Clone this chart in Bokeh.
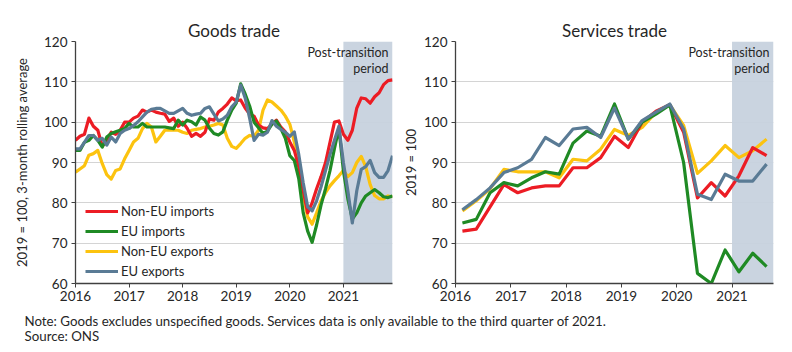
from bokeh.plotting import figure
from bokeh.models import (Range1d, BoxAnnotation, Label, Legend, LegendItem,
                          FixedTicker, ColumnDataSource)
from bokeh.layouts import column, row
from bokeh.embed import file_html
from bokeh.resources import INLINE

FONT = "Lato"
TXT = "#262626"

# ---------------- data ----------------
goods_start_year = 2016
goods_n_months = 72  # Jan 2016 .. Dec 2021

goods_non_eu_imports = [
    95.5, 96.5, 97.0, 101.0, 99.0, 98.0, 94.0, 95.5, 97.5, 97.0, 98.0, 100.0,
    100.0, 101.0, 101.5, 103.0, 102.5, 103.0, 102.5, 102.2, 102.0, 100.2, 101.0, 99.0,
    100.0, 98.5, 96.5, 97.2, 96.5, 97.5, 100.8, 100.5, 102.5, 103.4, 104.5, 106.0,
    105.3, 105.5, 103.5, 102.0, 101.5, 99.3, 98.6, 98.4, 99.5, 100.5, 98.8, 97.6,
    95.1, 93.0, 89.0, 83.0, 77.5, 80.0, 83.5, 86.5, 90.0, 95.0, 100.0, 100.3,
    97.0, 95.5, 98.0, 103.5, 106.0, 105.8, 104.7, 106.3, 107.3, 109.3, 110.3, 110.5]

goods_eu_imports = [
    93.0, 93.0, 95.0, 95.5, 96.7, 95.5, 93.8, 96.3, 97.2, 97.6, 98.0, 98.4,
    99.7, 98.8, 98.8, 99.7, 98.8, 98.8, 98.8, 98.8, 98.8, 98.6, 98.4, 100.5,
    99.3, 100.5, 100.1, 99.3, 101.3, 100.5, 98.5, 97.2, 96.8, 97.6, 100.5, 103.0,
    104.7, 109.5, 107.0, 104.0, 100.0, 98.6, 97.2, 97.8, 99.5, 100.3, 98.4, 96.0,
    91.7, 90.5, 86.0, 77.5, 73.0, 70.2, 74.5, 79.5, 83.5, 88.0, 93.5, 98.5,
    88.0, 81.0, 76.0, 77.5, 80.0, 81.7, 82.5, 83.3, 82.5, 81.5, 81.3, 81.7]

goods_non_eu_exports = [
    87.6, 88.4, 89.2, 91.8, 92.2, 93.0, 89.7, 87.0, 85.9, 88.0, 88.4, 90.9,
    93.0, 95.1, 96.0, 98.4, 99.7, 98.8, 95.1, 96.5, 98.0, 98.0, 98.0, 98.0,
    97.5, 97.2, 98.0, 98.2, 98.4, 98.8, 99.0, 99.3, 99.7, 99.3, 96.0, 94.0,
    93.5, 94.7, 96.0, 96.7, 96.5, 98.0, 103.0, 105.5, 105.0, 104.0, 103.0, 101.5,
    99.5, 95.1, 89.5, 82.0, 76.5, 74.7, 77.5, 80.5, 82.5, 84.2, 85.5, 86.7,
    88.0, 86.5, 87.5, 90.0, 91.5, 89.0, 84.5, 81.8, 81.0, 81.0, 81.7, 81.5]

goods_eu_exports = [
    93.4, 93.4, 95.0, 96.7, 96.7, 95.5, 96.0, 94.3, 96.3, 95.1, 97.2, 98.0,
    98.4, 99.2, 100.1, 101.3, 102.5, 103.2, 103.4, 103.4, 102.8, 102.2, 102.2, 102.8,
    103.4, 102.2, 101.7, 102.0, 102.2, 103.4, 103.8, 102.0, 100.3, 100.8, 101.7, 103.8,
    105.0, 109.2, 106.0, 101.0, 95.5, 97.0, 96.8, 97.5, 100.4, 99.0, 98.2, 97.5,
    96.5, 97.6, 92.0, 85.0, 79.0, 78.0, 80.5, 84.0, 88.0, 92.0, 95.5, 99.0,
    90.0, 83.0, 75.0, 83.0, 88.3, 89.0, 90.5, 87.5, 86.3, 86.3, 88.0, 91.7]

svc_years = [2016, 2016, 2016, 2016, 2017, 2017, 2017, 2017, 2018, 2018, 2018, 2018,
             2019, 2019, 2019, 2019, 2020, 2020, 2020, 2020, 2021, 2021, 2021]
svc_quarters = [1, 2, 3, 4, 1, 2, 3, 4, 1, 2, 3, 4, 1, 2, 3, 4, 1, 2, 3, 4, 1, 2, 3]

svc_non_eu_imports = [73.0, 73.5, 79.0, 84.5, 82.5, 83.7, 84.2, 84.2, 88.7, 88.7, 91.2, 96.5,
                      93.7, 100.0, 102.7, 104.3, 97.5, 81.2, 85.0, 81.7, 86.7, 93.7, 91.7]
svc_eu_imports = [75.0, 75.9, 82.5, 85.0, 84.2, 86.2, 87.7, 87.1, 94.8, 97.8, 96.5, 104.5,
                  95.8, 100.0, 102.0, 104.3, 90.0, 62.5, 60.0, 68.3, 62.9, 67.5, 64.2]
svc_non_eu_exports = [78.0, 80.5, 83.5, 88.3, 87.7, 87.7, 87.7, 86.2, 90.8, 90.4, 93.3, 98.2,
                      96.7, 98.7, 102.5, 104.3, 99.2, 87.3, 90.4, 94.2, 91.2, 92.9, 95.8]
svc_eu_exports = [78.3, 80.8, 83.7, 87.5, 88.7, 90.8, 96.2, 94.2, 98.3, 98.7, 96.2, 103.5,
                  95.8, 100.4, 102.5, 104.5, 98.3, 82.1, 80.8, 87.1, 85.4, 85.4, 89.6]

year_ticks = [2016, 2017, 2018, 2019, 2020, 2021]
y_ticks = [60, 70, 80, 90, 100, 110, 120]
post_transition_start = 2021

series_names = ["Non-EU imports", "EU imports", "Non-EU exports", "EU exports"]
colors = {"Non-EU imports": "#ec1c24", "EU imports": "#1f8a24",
          "Non-EU exports": "#fcc30f", "EU exports": "#5a7b95"}
draw_order = ["Non-EU exports", "Non-EU imports", "EU imports", "EU exports"]

goods_x = [goods_start_year + i / 12 for i in range(goods_n_months)]
svc_x = [y + (q - 0.5) / 4 for y, q in zip(svc_years, svc_quarters)]

goods_src = ColumnDataSource(dict(x=goods_x,
                                  **{"Non-EU imports": goods_non_eu_imports,
                                     "EU imports": goods_eu_imports,
                                     "Non-EU exports": goods_non_eu_exports,
                                     "EU exports": goods_eu_exports}))
svc_src = ColumnDataSource(dict(x=svc_x,
                                **{"Non-EU imports": svc_non_eu_imports,
                                   "EU imports": svc_eu_imports,
                                   "Non-EU exports": svc_non_eu_exports,
                                   "EU exports": svc_eu_exports}))


def make_panel(title, src, x_end, ylabel, width, border_left, border_right, label_standoff):
    p = figure(width=width, height=308, output_backend="svg", toolbar_location=None,
               x_range=Range1d(2016, x_end), y_range=Range1d(60, 120),
               min_border_left=border_left, min_border_right=border_right,
               min_border_top=41, min_border_bottom=25)
    p.title.text = title
    p.title.align = "center"
    p.title.text_font = FONT
    p.title.text_font_size = "17px"
    p.title.text_font_style = "normal"
    p.title.text_color = TXT
    p.title.standoff = 2
    p.outline_line_color = None
    p.background_fill_color = "white"
    p.border_fill_color = "white"

    p.add_layout(BoxAnnotation(left=post_transition_start, right=x_end,
                               fill_color="#c7d2de", fill_alpha=0.95,
                               line_color=None, level="underlay"))

    p.xgrid.visible = False
    p.ygrid.grid_line_color = "#d4d4d4"
    p.ygrid.grid_line_width = 1
    p.ygrid.level = "underlay"

    for ax in (p.xaxis[0], p.yaxis[0]):
        ax.axis_line_color = "#404040"
        ax.axis_line_width = 1.3
        ax.major_tick_line_color = "#404040"
        ax.major_tick_out = 4
        ax.major_tick_in = 0
        ax.minor_tick_line_color = None
        ax.major_label_text_font = FONT
        ax.major_label_text_font_size = "13.5px"
        ax.major_label_text_color = TXT
    p.xaxis.ticker = FixedTicker(ticks=year_ticks)
    p.yaxis.ticker = FixedTicker(ticks=y_ticks)
    p.xaxis.major_label_standoff = 3
    p.yaxis.major_label_standoff = 4
    p.yaxis.axis_label = ylabel
    p.yaxis.axis_label_text_font = FONT
    p.yaxis.axis_label_text_font_size = "13px"
    p.yaxis.axis_label_text_font_style = "normal"
    p.yaxis.axis_label_text_color = TXT
    p.yaxis.axis_label_standoff = label_standoff

    renderers = {}
    for name in draw_order:
        renderers[name] = p.line("x", name, source=src, line_color=colors[name],
                                 line_width=3.2, line_join="round")

    for txt, yv in (("Post-transition", 117.3), ("period", 113.4)):
        p.add_layout(Label(x=x_end, y=yv, x_offset=-4, text=txt, text_align="right",
                           text_baseline="middle", text_font=FONT,
                           text_font_size="12.5px", text_color=TXT))
    return p, renderers


p1, r1 = make_panel("Goods trade", goods_src, 2016 + (goods_n_months - 1) / 12,
                    "2019 = 100, 3-month rolling average", 396, 75, 4, 11)
p2, r2 = make_panel("Services trade", svc_src, 2021.75, "2019 = 100", 396, 59, 19, 2)

legend = Legend(items=[LegendItem(label=n, renderers=[r1[n]]) for n in series_names],
                location=(10, 2), orientation="vertical",
                label_text_font=FONT, label_text_font_size="13px",
                label_text_color=TXT, glyph_width=33, glyph_height=20,
                label_height=20, label_standoff=3, spacing=0, padding=2, margin=0,
                background_fill_alpha=0, border_line_color=None)
p1.add_layout(legend)

notes = figure(width=792, height=44, output_backend="svg", toolbar_location=None,
               x_range=Range1d(0, 792), y_range=Range1d(44, 0),
               min_border=0, outline_line_color=None)
notes.axis.visible = False
notes.grid.visible = False
for txt, yy in (("Note: Goods excludes unspecified goods. Services data is only "
                 "available to the third quarter of 2021.", 12),
                ("Source: ONS", 27)):
    notes.add_layout(Label(x=24, y=yy, text=txt, text_align="left",
                           text_baseline="middle", text_font=FONT,
                           text_font_size="13.3px", text_color=TXT))

layout = column(row(p1, p2), notes)
open("out.html", "w").write(file_html(layout, INLINE))
